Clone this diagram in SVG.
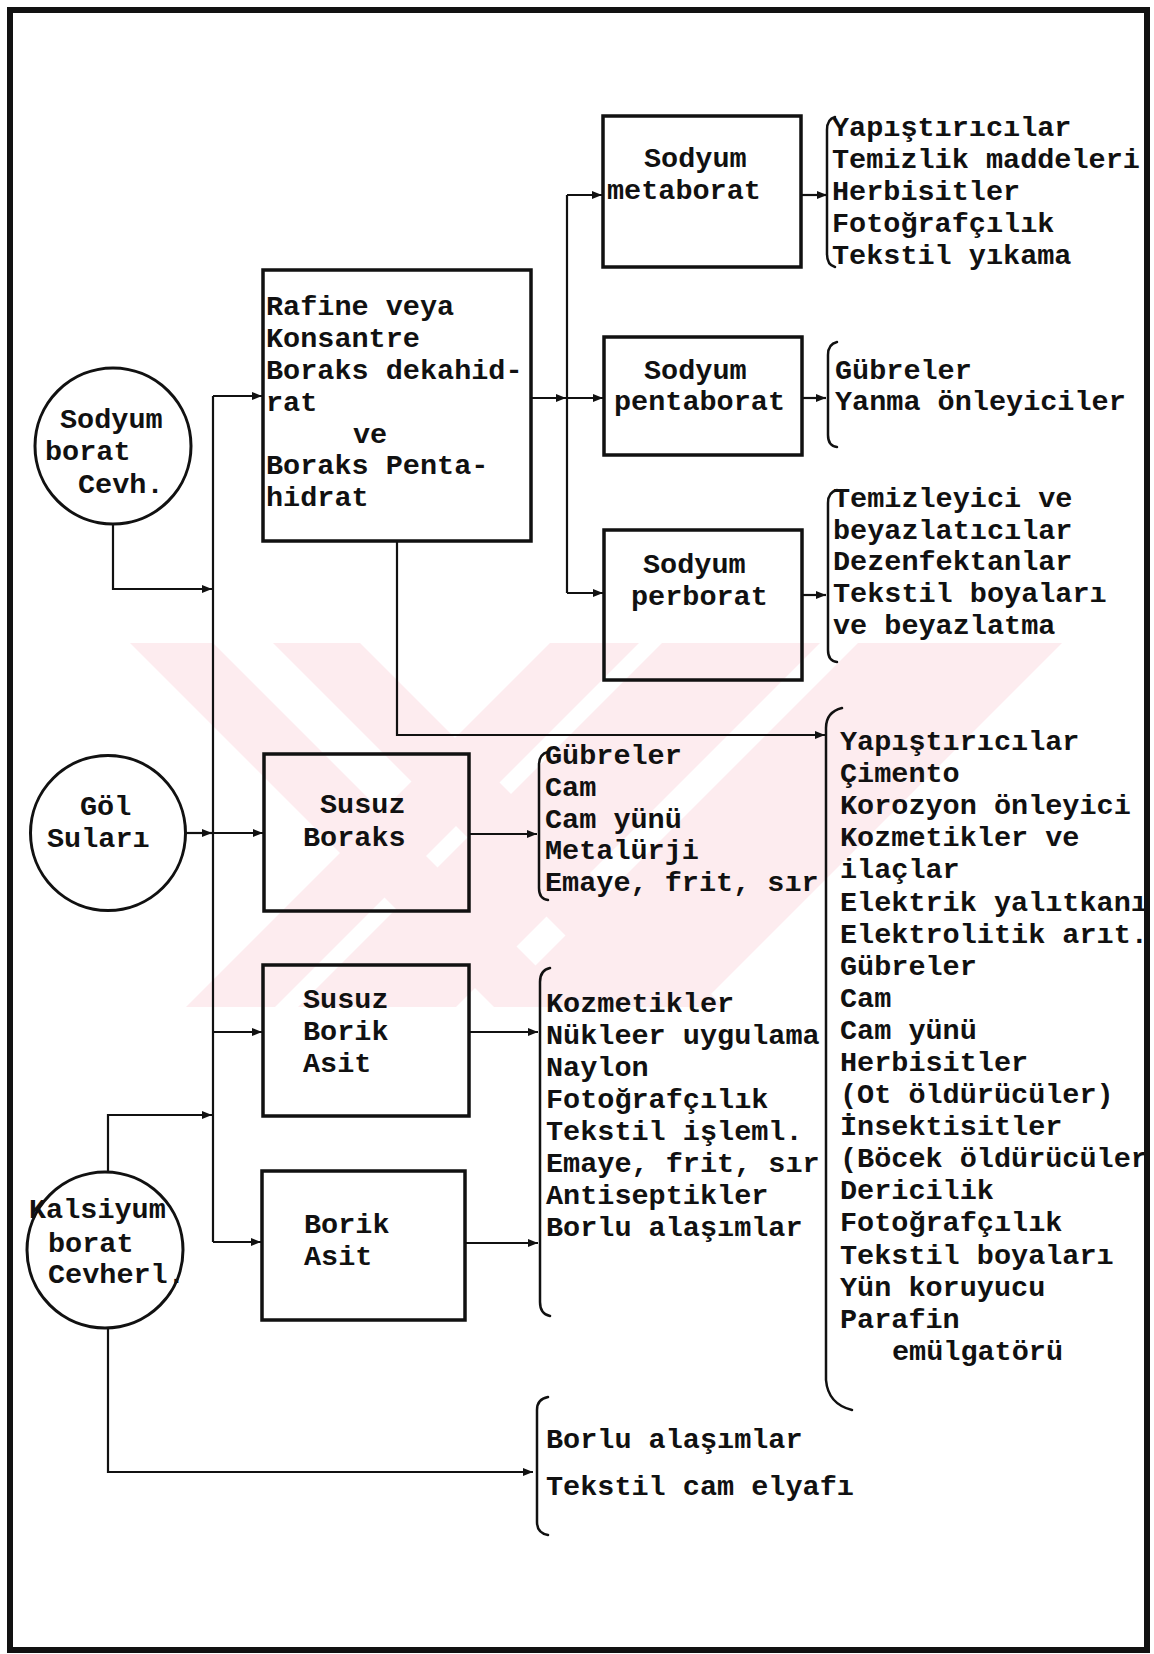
<svg xmlns="http://www.w3.org/2000/svg" width="1154" height="1654" viewBox="0 0 1154 1654">
<defs>
<style>
text{font-family:"Liberation Mono","Courier New",monospace;font-size:28.5px;font-weight:bold;fill:#111}
.box{fill:none;stroke:#111;stroke-width:3.5}
.circ{fill:none;stroke:#111;stroke-width:3}
.ln{fill:none;stroke:#111;stroke-width:2.2}
.br{fill:none;stroke:#111;stroke-width:2.5;stroke-linecap:round}
.frame{fill:none;stroke:#111;stroke-width:6}
.wm{fill:#fdecef;stroke:none}
</style>
<marker id="ah" viewBox="0 0 10 8" refX="10" refY="4" markerWidth="10" markerHeight="8" markerUnits="userSpaceOnUse" orient="auto"><path d="M0,0 L10,4 L0,8 z" fill="#111"/></marker>
</defs>
<rect width="1154" height="1654" fill="#fff"/>

<g id="watermark">
<polygon class="wm" points="130,643 213,643 577,1007 494,1007"/>
<polygon class="wm" points="273,643 360,643 724,1007 637,1007"/>
<polygon class="wm" points="550,643 639,643 275,1007 186,1007"/>
<polygon class="wm" points="662,643 820,643 456,1007 298,1007"/>
<polygon class="wm" points="858,643 1062,643 698,1007 494,1007"/>
</g>

<g id="connectors">
<path class="ln" d="M213,396 V1242"/>
<path class="ln" d="M213,396 H262" marker-end="url(#ah)"/>
<path class="ln" d="M113,524 V589 H212" marker-end="url(#ah)"/>
<path class="ln" d="M185,833 H212" marker-end="url(#ah)"/>
<path class="ln" d="M213,833 H263" marker-end="url(#ah)"/>
<path class="ln" d="M213,1032 H262" marker-end="url(#ah)"/>
<path class="ln" d="M108,1172 V1115 H212" marker-end="url(#ah)"/>
<path class="ln" d="M213,1242 H261" marker-end="url(#ah)"/>
<path class="ln" d="M108,1328 V1472 H533" marker-end="url(#ah)"/>
<path class="ln" d="M531,398 H566" marker-end="url(#ah)"/>
<path class="ln" d="M567,398 H603" marker-end="url(#ah)"/>
<path class="ln" d="M567,195 V593"/>
<path class="ln" d="M567,195 H602" marker-end="url(#ah)"/>
<path class="ln" d="M567,593 H603" marker-end="url(#ah)"/>
<path class="ln" d="M801,195 H827" marker-end="url(#ah)"/>
<path class="ln" d="M802,398 H826" marker-end="url(#ah)"/>
<path class="ln" d="M802,595 H826" marker-end="url(#ah)"/>
<path class="ln" d="M397,541 V735 H825" marker-end="url(#ah)"/>
<path class="ln" d="M469,834 H537" marker-end="url(#ah)"/>
<path class="ln" d="M469,1032 H538" marker-end="url(#ah)"/>
<path class="ln" d="M465,1243 H538" marker-end="url(#ah)"/>
</g>

<g id="sodyum-borat-cevh">
<circle class="circ" cx="113" cy="446" r="78"/>
<text x="60" y="428">Sodyum</text>
<text x="45" y="460">borat</text>
<text x="78" y="493">Cevh.</text>
</g>

<g id="gol-sulari">
<circle class="circ" cx="108" cy="833" r="77.5"/>
<text x="80" y="815">Göl</text>
<text x="47" y="847">Suları</text>
</g>

<g id="kalsiyum-borat">
<circle class="circ" cx="105" cy="1250" r="78"/>
<text x="29" y="1218">Kalsiyum</text>
<text x="48" y="1252">borat</text>
<text x="48" y="1283">Cevherl.</text>
</g>

<g id="rafine-boraks">
<rect class="box" x="263" y="270" width="268" height="271"/>
<text x="266" y="315">Rafine veya</text>
<text x="266" y="347">Konsantre</text>
<text x="266" y="379">Boraks dekahid-</text>
<text x="266" y="411">rat</text>
<text x="353" y="443">ve</text>
<text x="266" y="474">Boraks Penta-</text>
<text x="266" y="506">hidrat</text>
</g>

<g id="sodyum-metaborat">
<rect class="box" x="603" y="116" width="198" height="151"/>
<text x="644" y="167">Sodyum</text>
<text x="607" y="199">metaborat</text>
</g>

<g id="sodyum-pentaborat">
<rect class="box" x="604" y="337" width="198" height="118"/>
<text x="644" y="379">Sodyum</text>
<text x="614" y="410">pentaborat</text>
</g>

<g id="sodyum-perborat">
<rect class="box" x="604" y="530" width="198" height="150"/>
<text x="643" y="573">Sodyum</text>
<text x="631" y="605">perborat</text>
</g>

<g id="susuz-boraks">
<rect class="box" x="264" y="754" width="205" height="157"/>
<text x="320" y="813">Susuz</text>
<text x="303" y="846">Boraks</text>
</g>

<g id="susuz-borik-asit">
<rect class="box" x="263" y="965" width="206" height="151"/>
<text x="303" y="1008">Susuz</text>
<text x="303" y="1040">Borik</text>
<text x="303" y="1072">Asit</text>
</g>

<g id="borik-asit">
<rect class="box" x="262" y="1171" width="203" height="149"/>
<text x="304" y="1233">Borik</text>
<text x="304" y="1265">Asit</text>
</g>

<g id="list-metaborat">
<path class="br" d="M835,117 Q827,119 827,130 V254 Q827,265 835,267"/>
<text x="832" y="136">Yapıştırıcılar</text>
<text x="832" y="168">Temizlik maddeleri</text>
<text x="832" y="200">Herbisitler</text>
<text x="832" y="232">Fotoğrafçılık</text>
<text x="832" y="264">Tekstil yıkama</text>
</g>

<g id="list-pentaborat">
<path class="br" d="M837,342 Q828,344 828,355 V435 Q828,446 837,447"/>
<text x="835" y="379">Gübreler</text>
<text x="835" y="410">Yanma önleyiciler</text>
</g>

<g id="list-perborat">
<path class="br" d="M837,490 Q828,492 828,503 V650 Q828,661 837,662"/>
<text x="833" y="507">Temizleyici ve</text>
<text x="833" y="539">beyazlatıcılar</text>
<text x="833" y="570">Dezenfektanlar</text>
<text x="833" y="602">Tekstil boyaları</text>
<text x="833" y="634">ve beyazlatma</text>
</g>

<g id="list-susuz-boraks">
<path class="br" d="M548,752 Q539,754 539,765 V888 Q539,899 548,900"/>
<text x="545" y="764">Gübreler</text>
<text x="545" y="796">Cam</text>
<text x="545" y="828">Cam yünü</text>
<text x="545" y="859">Metalürji</text>
<text x="545" y="891">Emaye, frit, sır</text>
</g>

<g id="list-borik-asit">
<path class="br" d="M550,968 Q540,970 540,982 V1302 Q540,1314 550,1316"/>
<text x="546" y="1012">Kozmetikler</text>
<text x="546" y="1044">Nükleer uygulama</text>
<text x="546" y="1076">Naylon</text>
<text x="546" y="1108">Fotoğrafçılık</text>
<text x="546" y="1140">Tekstil işleml.</text>
<text x="546" y="1172">Emaye, frit, sır</text>
<text x="546" y="1204">Antiseptikler</text>
<text x="546" y="1236">Borlu alaşımlar</text>
</g>

<g id="list-general">
<path class="br" d="M842,708 Q826,712 826,728 V1380 Q828,1404 852,1410"/>
<text x="840" y="750">Yapıştırıcılar</text>
<text x="840" y="782">Çimento</text>
<text x="840" y="814">Korozyon önleyici</text>
<text x="840" y="846">Kozmetikler ve</text>
<text x="840" y="878">ilaçlar</text>
<text x="840" y="911">Elektrik yalıtkanı</text>
<text x="840" y="943">Elektrolitik arıt.</text>
<text x="840" y="975">Gübreler</text>
<text x="840" y="1007">Cam</text>
<text x="840" y="1039">Cam yünü</text>
<text x="840" y="1071">Herbisitler</text>
<text x="840" y="1103">(Ot öldürücüler)</text>
<text x="840" y="1135">İnsektisitler</text>
<text x="840" y="1167">(Böcek öldürücüler</text>
<text x="840" y="1199">Dericilik</text>
<text x="840" y="1231">Fotoğrafçılık</text>
<text x="840" y="1264">Tekstil boyaları</text>
<text x="840" y="1296">Yün koruyucu</text>
<text x="840" y="1328">Parafin</text>
<text x="892" y="1360">emülgatörü</text>
</g>

<g id="list-kalsiyum">
<path class="br" d="M548,1397 Q537,1399 537,1410 V1522 Q537,1533 548,1535"/>
<text x="546" y="1448">Borlu alaşımlar</text>
<text x="546" y="1495">Tekstil cam elyafı</text>
</g>

<rect class="frame" x="10" y="10" width="1137" height="1640"/>
</svg>
